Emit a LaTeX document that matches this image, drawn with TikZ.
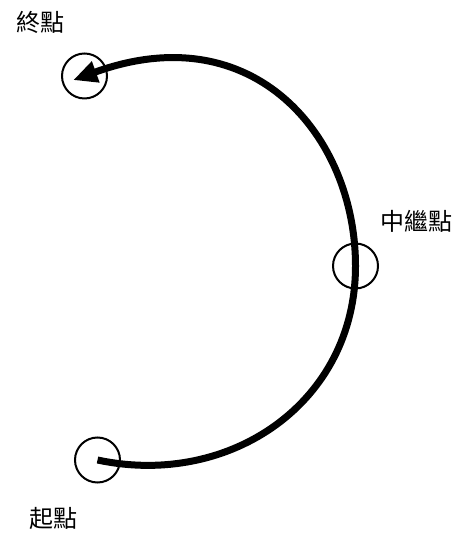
\documentclass[tikz,border=0pt]{standalone}
\usepackage{fontspec}
\newfontfamily\cjk{Noto Sans CJK TC}
\usepackage{tikz}
\usetikzlibrary{arrows.meta,positioning}

\begin{document}
\begin{tikzpicture}[
  x=1bp,y=1bp,
  every node/.style={font=\cjk\fontsize{24bp}{28bp}\selectfont},
  waypoint/.style={circle,draw=black,line width=2bp,minimum size=45bp,inner sep=0pt},
  route/.style={-{Triangle[length=24bp,width=21bp]},line width=7bp,black}
]
\useasboundingbox (0,0) rectangle (465,535);
\node[waypoint] (start) at (97.5,75) {};
\node[waypoint] (relay) at (355.5,269) {};
\node[waypoint] (goal) at (84.5,459) {};
\node (startlbl) at (53,17) {起點};
\node (relaylbl) at (416,314) {中繼點};
\node (goallbl) at (40,513) {終點};
\draw[route,shorten >=-12bp] (start.center)
  to[out=-12,in=-90,out distance=136bp,in distance=136bp] (relay.center)
  to[out=90,in=20,out distance=130bp,in distance=180bp] (goal.center);
\end{tikzpicture}
\end{document}
